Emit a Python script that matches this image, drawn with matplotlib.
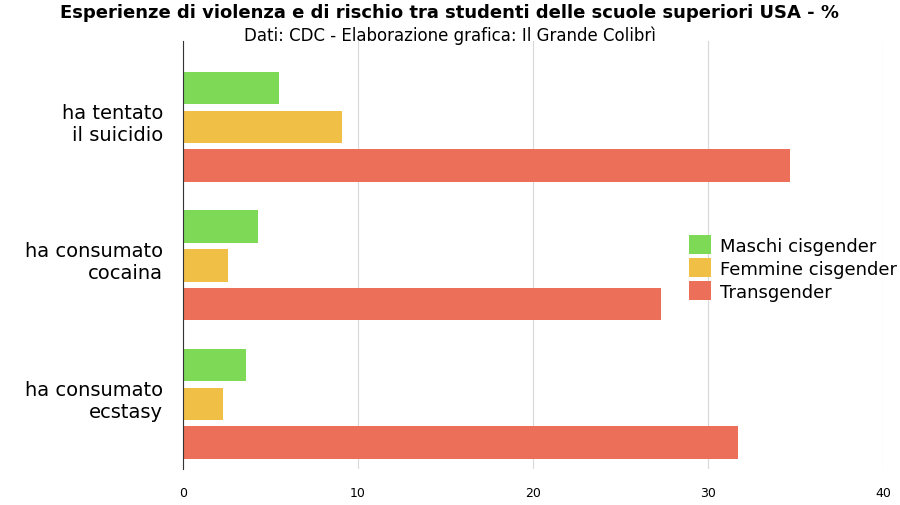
import numpy as np
import matplotlib.pyplot as plt

categories = ['ha tentato\nil suicidio', 'ha consumato\ncocaina', 'ha consumato\necstasy']
maschi = [5.5, 4.3, 3.6]
femmine = [9.1, 2.6, 2.3]
trans = [34.7, 27.3, 31.7]
series = ['Maschi cisgender', 'Femmine cisgender', 'Transgender']
colors = ['#7ed957', '#f0bf45', '#ec6f5a']

fig = plt.figure(figsize=(9, 5.06), dpi=100)
ax = fig.add_axes([0.203, 0.071, 0.778, 0.846])

y = np.arange(len(categories))
offsets = [-0.23, 0.05, 0.33]
for vals, off, c, name in zip([maschi, femmine, trans], offsets, colors, series):
    ax.barh(y + off, vals, height=0.235, color=c, label=name)

ax.set_ylim(2.52, -0.57)
ax.set_xlim(0, 40)
ax.set_xticks([0, 10, 20, 30, 40])
ax.set_yticks(y)
ax.set_yticklabels(categories, fontsize=14, ha='right')
ax.tick_params(axis='y', length=0, pad=14)
ax.tick_params(axis='x', length=0, labelsize=9, pad=12)
ax.grid(axis='x', color='#d8d8d8', linewidth=0.8)
ax.set_axisbelow(True)
for s in ['top', 'right', 'bottom']:
    ax.spines[s].set_visible(False)
ax.spines['left'].set_color('#333333')

ax.legend(loc='center left', bbox_to_anchor=(0.70, 0.47), frameon=False,
          fontsize=13, handlelength=1.2, handleheight=1.2, labelspacing=0.2,
          handletextpad=0.5)

fig.text(0.5, 0.965, 'Esperienze di violenza e di rischio tra studenti delle scuole superiori USA - %',
         ha='center', fontsize=13, fontweight='bold')
fig.text(0.5, 0.918, 'Dati: CDC - Elaborazione grafica: Il Grande Colibrì',
         ha='center', fontsize=12)

fig.savefig('out.png', dpi=100)
